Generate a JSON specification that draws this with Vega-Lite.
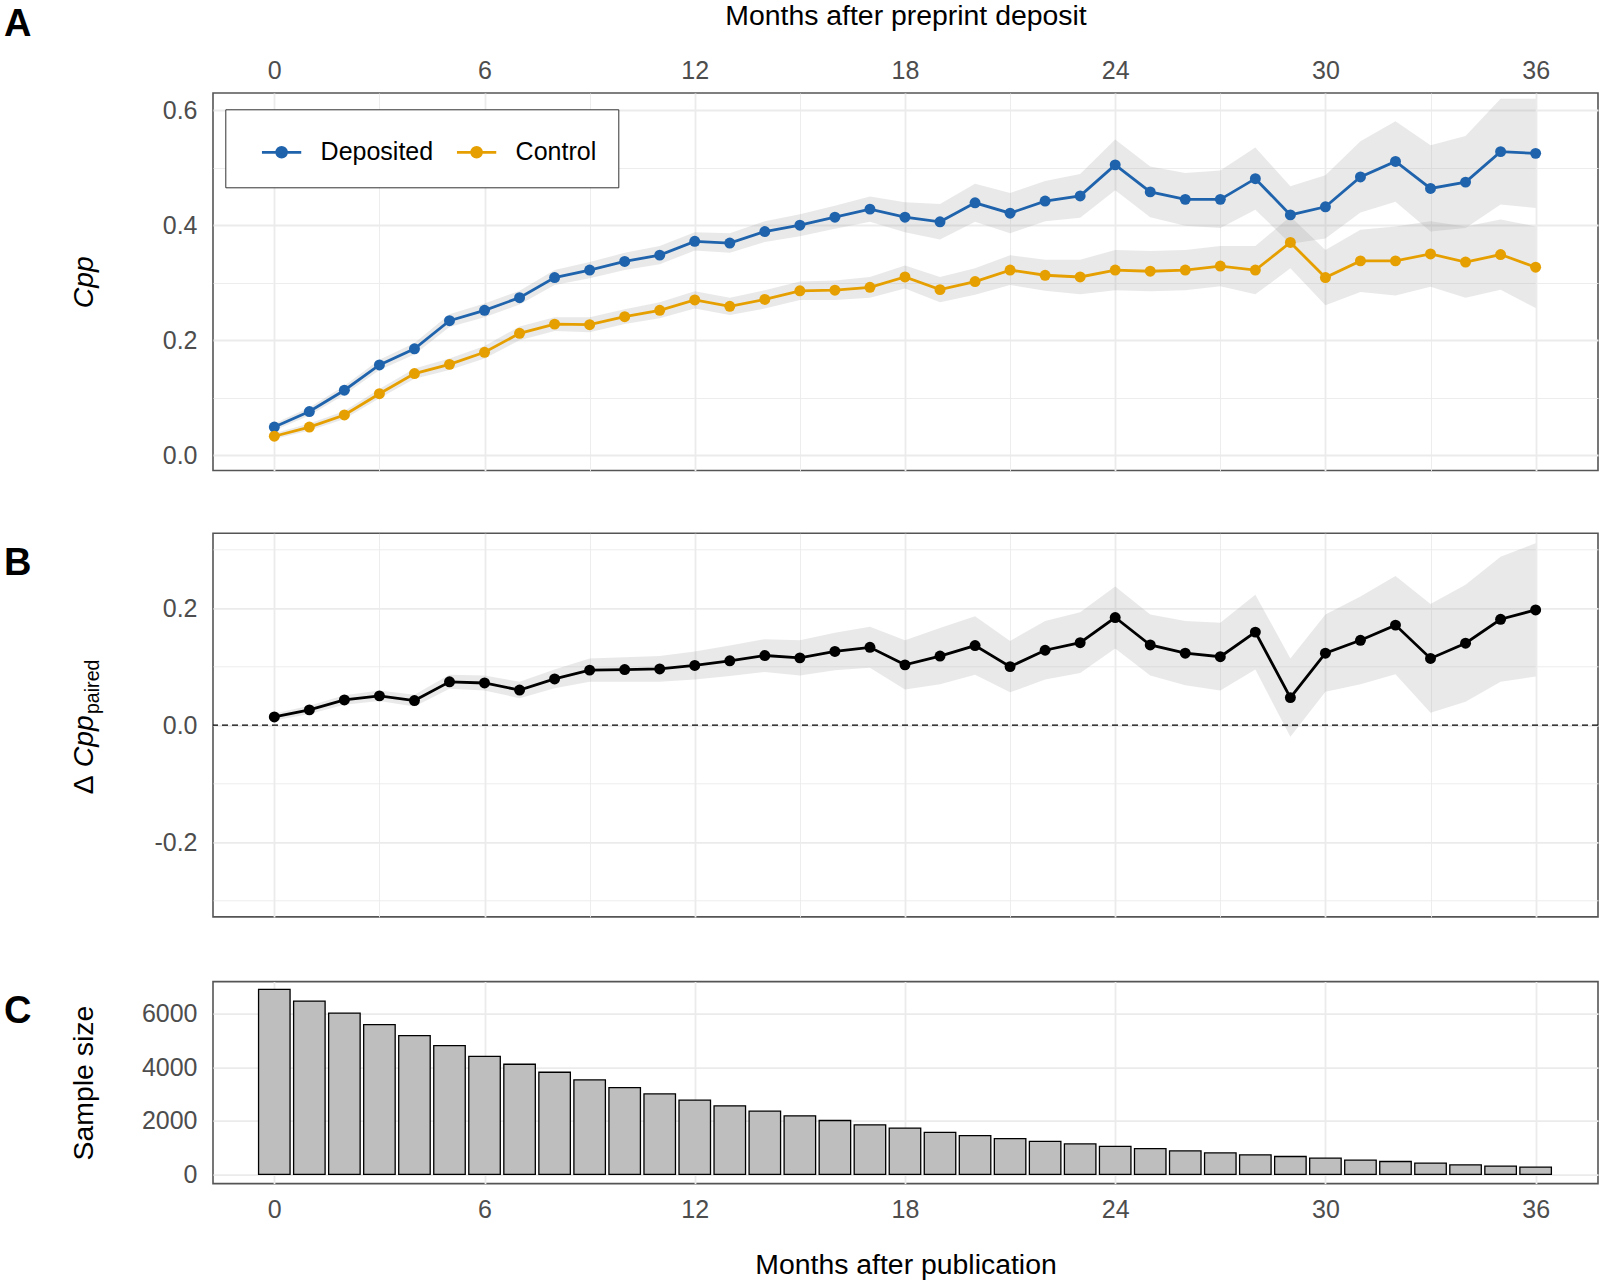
{
  "$schema": "https://vega.github.io/schema/vega-lite/v6.json",
  "padding": {"left": 3, "top": 0, "right": 2, "bottom": 0},
  "autosize": {"type": "pad"},
  "config": {
    "font": "Liberation Sans",
    "view": {"stroke": "#555555", "strokeWidth": 1.6},
    "axis": {"labelFont": "Liberation Sans", "titleFont": "Liberation Sans", "labelFontSize": 25, "titleFontSize": 28.4, "labelColor": "#4D4D4D", "titleColor": "#000000", "titleFontWeight": "normal", "ticks": false, "tickSize": 0, "domain": false, "gridColor": "#EBEBEB", "labelFlush": false, "labelOverlap": false},
    "title": {"font": "Liberation Sans", "fontSize": 38, "fontWeight": "bold", "color": "#000000", "anchor": "start", "frame": "group", "dx": -209, "baseline": "alphabetic"}
  },
  "datasets": {
    "cpp": [
      {"m":0,"g":"Deposited","v":0.049,"lo":0.043,"hi":0.055},
      {"m":1,"g":"Deposited","v":0.076,"lo":0.069,"hi":0.083},
      {"m":2,"g":"Deposited","v":0.113,"lo":0.105,"hi":0.121},
      {"m":3,"g":"Deposited","v":0.157,"lo":0.148,"hi":0.166},
      {"m":4,"g":"Deposited","v":0.185,"lo":0.175,"hi":0.195},
      {"m":5,"g":"Deposited","v":0.234,"lo":0.223,"hi":0.245},
      {"m":6,"g":"Deposited","v":0.252,"lo":0.240,"hi":0.264},
      {"m":7,"g":"Deposited","v":0.274,"lo":0.262,"hi":0.286},
      {"m":8,"g":"Deposited","v":0.309,"lo":0.296,"hi":0.322},
      {"m":9,"g":"Deposited","v":0.322,"lo":0.308,"hi":0.336},
      {"m":10,"g":"Deposited","v":0.337,"lo":0.322,"hi":0.352},
      {"m":11,"g":"Deposited","v":0.348,"lo":0.332,"hi":0.364},
      {"m":12,"g":"Deposited","v":0.372,"lo":0.356,"hi":0.388},
      {"m":13,"g":"Deposited","v":0.369,"lo":0.352,"hi":0.386},
      {"m":14,"g":"Deposited","v":0.389,"lo":0.371,"hi":0.407},
      {"m":15,"g":"Deposited","v":0.400,"lo":0.381,"hi":0.419},
      {"m":16,"g":"Deposited","v":0.414,"lo":0.394,"hi":0.434},
      {"m":17,"g":"Deposited","v":0.428,"lo":0.406,"hi":0.450},
      {"m":18,"g":"Deposited","v":0.414,"lo":0.388,"hi":0.440},
      {"m":19,"g":"Deposited","v":0.406,"lo":0.375,"hi":0.437},
      {"m":20,"g":"Deposited","v":0.439,"lo":0.406,"hi":0.472},
      {"m":21,"g":"Deposited","v":0.421,"lo":0.386,"hi":0.456},
      {"m":22,"g":"Deposited","v":0.442,"lo":0.407,"hi":0.477},
      {"m":23,"g":"Deposited","v":0.451,"lo":0.413,"hi":0.489},
      {"m":24,"g":"Deposited","v":0.505,"lo":0.461,"hi":0.549},
      {"m":25,"g":"Deposited","v":0.458,"lo":0.414,"hi":0.502},
      {"m":26,"g":"Deposited","v":0.445,"lo":0.399,"hi":0.491},
      {"m":27,"g":"Deposited","v":0.445,"lo":0.395,"hi":0.495},
      {"m":28,"g":"Deposited","v":0.481,"lo":0.427,"hi":0.535},
      {"m":29,"g":"Deposited","v":0.418,"lo":0.368,"hi":0.468},
      {"m":30,"g":"Deposited","v":0.432,"lo":0.377,"hi":0.487},
      {"m":31,"g":"Deposited","v":0.484,"lo":0.422,"hi":0.546},
      {"m":32,"g":"Deposited","v":0.511,"lo":0.441,"hi":0.581},
      {"m":33,"g":"Deposited","v":0.464,"lo":0.389,"hi":0.539},
      {"m":34,"g":"Deposited","v":0.475,"lo":0.395,"hi":0.555},
      {"m":35,"g":"Deposited","v":0.528,"lo":0.436,"hi":0.620},
      {"m":36,"g":"Deposited","v":0.525,"lo":0.430,"hi":0.620},
      {"m":0,"g":"Control","v":0.033,"lo":0.028,"hi":0.038},
      {"m":1,"g":"Control","v":0.049,"lo":0.043,"hi":0.055},
      {"m":2,"g":"Control","v":0.070,"lo":0.063,"hi":0.077},
      {"m":3,"g":"Control","v":0.107,"lo":0.099,"hi":0.115},
      {"m":4,"g":"Control","v":0.142,"lo":0.133,"hi":0.151},
      {"m":5,"g":"Control","v":0.158,"lo":0.148,"hi":0.168},
      {"m":6,"g":"Control","v":0.179,"lo":0.168,"hi":0.190},
      {"m":7,"g":"Control","v":0.212,"lo":0.200,"hi":0.224},
      {"m":8,"g":"Control","v":0.228,"lo":0.216,"hi":0.240},
      {"m":9,"g":"Control","v":0.227,"lo":0.214,"hi":0.240},
      {"m":10,"g":"Control","v":0.241,"lo":0.228,"hi":0.254},
      {"m":11,"g":"Control","v":0.252,"lo":0.238,"hi":0.266},
      {"m":12,"g":"Control","v":0.270,"lo":0.255,"hi":0.285},
      {"m":13,"g":"Control","v":0.259,"lo":0.244,"hi":0.274},
      {"m":14,"g":"Control","v":0.271,"lo":0.255,"hi":0.287},
      {"m":15,"g":"Control","v":0.286,"lo":0.270,"hi":0.302},
      {"m":16,"g":"Control","v":0.287,"lo":0.270,"hi":0.304},
      {"m":17,"g":"Control","v":0.292,"lo":0.274,"hi":0.310},
      {"m":18,"g":"Control","v":0.310,"lo":0.290,"hi":0.330},
      {"m":19,"g":"Control","v":0.288,"lo":0.266,"hi":0.310},
      {"m":20,"g":"Control","v":0.302,"lo":0.279,"hi":0.325},
      {"m":21,"g":"Control","v":0.322,"lo":0.296,"hi":0.348},
      {"m":22,"g":"Control","v":0.313,"lo":0.286,"hi":0.340},
      {"m":23,"g":"Control","v":0.310,"lo":0.280,"hi":0.340},
      {"m":24,"g":"Control","v":0.322,"lo":0.287,"hi":0.357},
      {"m":25,"g":"Control","v":0.320,"lo":0.285,"hi":0.355},
      {"m":26,"g":"Control","v":0.322,"lo":0.287,"hi":0.357},
      {"m":27,"g":"Control","v":0.329,"lo":0.294,"hi":0.364},
      {"m":28,"g":"Control","v":0.322,"lo":0.280,"hi":0.364},
      {"m":29,"g":"Control","v":0.370,"lo":0.325,"hi":0.415},
      {"m":30,"g":"Control","v":0.309,"lo":0.261,"hi":0.357},
      {"m":31,"g":"Control","v":0.338,"lo":0.284,"hi":0.392},
      {"m":32,"g":"Control","v":0.338,"lo":0.278,"hi":0.398},
      {"m":33,"g":"Control","v":0.350,"lo":0.293,"hi":0.407},
      {"m":34,"g":"Control","v":0.336,"lo":0.274,"hi":0.398},
      {"m":35,"g":"Control","v":0.349,"lo":0.288,"hi":0.410},
      {"m":36,"g":"Control","v":0.327,"lo":0.256,"hi":0.398}
    ],
    "delta": [
      {"m":0,"v":0.014,"lo":0.008,"hi":0.020},
      {"m":1,"v":0.026,"lo":0.019,"hi":0.033},
      {"m":2,"v":0.043,"lo":0.035,"hi":0.051},
      {"m":3,"v":0.050,"lo":0.041,"hi":0.059},
      {"m":4,"v":0.042,"lo":0.032,"hi":0.052},
      {"m":5,"v":0.074,"lo":0.062,"hi":0.086},
      {"m":6,"v":0.072,"lo":0.059,"hi":0.085},
      {"m":7,"v":0.060,"lo":0.046,"hi":0.074},
      {"m":8,"v":0.079,"lo":0.063,"hi":0.095},
      {"m":9,"v":0.094,"lo":0.074,"hi":0.114},
      {"m":10,"v":0.095,"lo":0.074,"hi":0.116},
      {"m":11,"v":0.096,"lo":0.074,"hi":0.118},
      {"m":12,"v":0.102,"lo":0.078,"hi":0.126},
      {"m":13,"v":0.110,"lo":0.084,"hi":0.136},
      {"m":14,"v":0.119,"lo":0.091,"hi":0.147},
      {"m":15,"v":0.115,"lo":0.085,"hi":0.145},
      {"m":16,"v":0.126,"lo":0.094,"hi":0.158},
      {"m":17,"v":0.133,"lo":0.098,"hi":0.168},
      {"m":18,"v":0.103,"lo":0.061,"hi":0.145},
      {"m":19,"v":0.118,"lo":0.070,"hi":0.166},
      {"m":20,"v":0.136,"lo":0.086,"hi":0.186},
      {"m":21,"v":0.100,"lo":0.056,"hi":0.144},
      {"m":22,"v":0.128,"lo":0.078,"hi":0.178},
      {"m":23,"v":0.141,"lo":0.089,"hi":0.193},
      {"m":24,"v":0.184,"lo":0.131,"hi":0.237},
      {"m":25,"v":0.137,"lo":0.085,"hi":0.189},
      {"m":26,"v":0.123,"lo":0.068,"hi":0.178},
      {"m":27,"v":0.117,"lo":0.059,"hi":0.175},
      {"m":28,"v":0.159,"lo":0.095,"hi":0.223},
      {"m":29,"v":0.047,"lo":-0.020,"hi":0.114},
      {"m":30,"v":0.123,"lo":0.057,"hi":0.189},
      {"m":31,"v":0.145,"lo":0.070,"hi":0.220},
      {"m":32,"v":0.171,"lo":0.087,"hi":0.255},
      {"m":33,"v":0.114,"lo":0.021,"hi":0.207},
      {"m":34,"v":0.140,"lo":0.040,"hi":0.240},
      {"m":35,"v":0.181,"lo":0.074,"hi":0.288},
      {"m":36,"v":0.197,"lo":0.083,"hi":0.311}
    ],
    "n": [
      {"m":0,"n":6907},{"m":1,"n":6472},{"m":2,"n":6025},{"m":3,"n":5590},{"m":4,"n":5180},
      {"m":5,"n":4807},{"m":6,"n":4410},{"m":7,"n":4112},{"m":8,"n":3814},{"m":9,"n":3528},
      {"m":10,"n":3242},{"m":11,"n":3006},{"m":12,"n":2770},{"m":13,"n":2559},{"m":14,"n":2360},
      {"m":15,"n":2185},{"m":16,"n":2012},{"m":17,"n":1852},{"m":18,"n":1728},{"m":19,"n":1568},
      {"m":20,"n":1444},{"m":21,"n":1333},{"m":22,"n":1235},{"m":23,"n":1136},{"m":24,"n":1049},
      {"m":25,"n":963},{"m":26,"n":877},{"m":27,"n":802},{"m":28,"n":728},{"m":29,"n":667},
      {"m":30,"n":605},{"m":31,"n":531},{"m":32,"n":481},{"m":33,"n":420},{"m":34,"n":358},
      {"m":35,"n":309},{"m":36,"n":272}
    ]
  },
  "spacing": 60.3,
  "vconcat": [
    {
      "width": 1385, "height": 377.5,
      "title": {"text": "A", "offset": -42.4},
      "data": {"name": "cpp"},
      "layer": [
        {
          "mark": {"type": "area", "color": "#999999", "opacity": 0.22},
          "encoding": {
            "x": {"field": "m", "type": "quantitative", "scale": {"domain": [-1.75, 37.78], "nice": false, "zero": false, "padding": 0},
                  "axis": {"orient": "top", "values": [0,3,6,9,12,15,18,21,24,27,30,33,36], "format": "d", "labelExpr": "datum.value % 6 === 0 ? datum.label : ''", "labelBaseline": "alphabetic", "labelPadding": 14.4, "title": "Months after preprint deposit", "titleBaseline": "alphabetic", "titleY": -68.6, "gridWidth": {"condition": {"test": "datum.value % 6 === 0", "value": 1.8}, "value": 0.9}}},
            "y": {"field": "lo", "type": "quantitative", "scale": {"domain": [-0.0266, 0.63], "nice": false, "zero": false},
                  "axis": {"values": [0,0.1,0.2,0.3,0.4,0.5,0.6], "labelExpr": "round(datum.value*10) % 2 === 0 ? format(datum.value, '.1f') : ''", "labelPadding": 16, "title": "Cpp", "titleFontStyle": "italic", "titleX": -121, "titleBaseline": "alphabetic", "gridWidth": {"condition": {"test": "round(datum.value*10) % 2 === 0", "value": 1.8}, "value": 0.9}}},
            "y2": {"field": "hi"},
            "detail": {"field": "g"}
          }
        },
        {
          "mark": {"type": "line", "strokeWidth": 2.8},
          "encoding": {
            "x": {"field": "m", "type": "quantitative"},
            "y": {"field": "v", "type": "quantitative", "title": "Cpp"},
            "color": {"field": "g", "type": "nominal", "scale": {"domain": ["Deposited", "Control"], "range": ["#1F63AC", "#E69F00"]},
                      "legend": {"title": null, "orient": "none", "legendX": 12.3, "legendY": 16.3, "direction": "horizontal", "strokeColor": "#333333", "fillColor": "#FFFFFF", "padding": 22, "symbolType": "M-1,0L1,0M-0.25,0A0.25,0.25,0,1,1,0.25,0A0.25,0.25,0,1,1,-0.25,0Z", "symbolSize": 1544, "symbolStrokeWidth": 2.7, "symbolOffset": 13.3, "labelFontSize": 25, "labelColor": "#000000", "labelFont": "Liberation Sans", "labelOffset": 18, "columnPadding": 9,
                                 "encode": {"symbols": {"update": {"fill": {"signal": "datum.value === 'Deposited' ? '#1F63AC' : '#E69F00'"}, "stroke": {"signal": "datum.value === 'Deposited' ? '#1F63AC' : '#E69F00'"}, "opacity": {"value": 1}}}}}}
          }
        },
        {
          "mark": {"type": "point", "filled": true, "size": 120, "opacity": 1},
          "encoding": {
            "x": {"field": "m", "type": "quantitative"},
            "y": {"field": "v", "type": "quantitative", "title": "Cpp"},
            "color": {"field": "g", "type": "nominal"}
          }
        }
      ]
    },
    {
      "spacing": 62.3,
      "vconcat": [
        {
          "width": 1385, "height": 383.6,
          "title": {"text": "B", "offset": -50},
          "layer": [
            {
              "data": {"name": "delta"},
              "layer": [
                {
                  "mark": {"type": "area", "color": "#999999", "opacity": 0.22},
                  "encoding": {
                    "x": {"field": "m", "type": "quantitative", "scale": {"domain": [-1.75, 37.78], "nice": false, "zero": false, "padding": 0},
                          "axis": {"values": [0,3,6,9,12,15,18,21,24,27,30,33,36], "labels": false, "title": null, "gridWidth": {"condition": {"test": "datum.value % 6 === 0", "value": 1.8}, "value": 0.9}}},
                    "y": {"field": "lo", "type": "quantitative", "scale": {"domain": [-0.328, 0.328], "nice": false, "zero": false},
                          "axis": {"values": [-0.3,-0.2,-0.1,0,0.1,0.2,0.3], "labelExpr": "round(datum.value*10) % 2 === 0 ? replace(format(datum.value, '.1f'), '\u2212', '-') : ''", "labelPadding": 16, "title": "Cpp", "titleFontStyle": "italic", "titleX": -121, "titleY": 207.5, "titleBaseline": "alphabetic", "gridWidth": {"condition": {"test": "round(datum.value*10) % 2 === 0", "value": 1.8}, "value": 0.9}}},
                    "y2": {"field": "hi"}
                  }
                },
                {
                  "mark": {"type": "line", "strokeWidth": 2.8, "color": "#000000"},
                  "encoding": {
                    "x": {"field": "m", "type": "quantitative"},
                    "y": {"field": "v", "type": "quantitative", "title": "Cpp"}
                  }
                },
                {
                  "mark": {"type": "point", "filled": true, "size": 120, "opacity": 1, "color": "#000000"},
                  "encoding": {
                    "x": {"field": "m", "type": "quantitative"},
                    "y": {"field": "v", "type": "quantitative", "title": "Cpp"}
                  }
                }
              ]
            },
            {
              "data": {"values": [{"z": 0}]},
              "mark": {"type": "rule", "strokeDash": [6, 4], "color": "#000000", "strokeWidth": 1.3},
              "encoding": {
                "y": {"field": "z", "type": "quantitative", "scale": {"domain": [-0.328, 0.328], "nice": false, "zero": false},
                      "axis": {"orient": "left", "title": "paired", "labels": false, "grid": false, "titleFontSize": 19.6, "titleFontStyle": "normal", "titleX": -115, "titleY": 153, "titleBaseline": "alphabetic", "titleAlign": "center"}}
              }
            },
            {
              "data": {"values": [{"z": 0}]},
              "mark": {"type": "rule", "opacity": 0},
              "encoding": {
                "y": {"field": "z", "type": "quantitative", "scale": {"domain": [-0.328, 0.328], "nice": false, "zero": false},
                      "axis": {"orient": "left", "title": "\u0394", "labels": false, "grid": false, "titleFontStyle": "normal", "titleX": -121, "titleY": 251, "titleBaseline": "alphabetic", "titleAlign": "center"}}
              }
            }
          ],
          "resolve": {"scale": {"y": "independent"}, "axis": {"y": "independent"}}
        },
        {
          "width": 1385, "height": 202,
          "title": {"text": "C", "offset": -49},
          "data": {"name": "n"},
          "mark": {"type": "bar", "size": 31.5, "fill": "#BEBEBE", "stroke": "#000000", "strokeWidth": 1.3},
          "encoding": {
            "x": {"field": "m", "type": "quantitative", "scale": {"domain": [-1.75, 37.78], "nice": false, "zero": false, "padding": 0},
                  "axis": {"values": [0,6,12,18,24,30,36], "format": "d", "labelBaseline": "alphabetic", "labelPadding": 34.3, "title": "Months after publication", "titleBaseline": "alphabetic", "titleY": 89.5, "gridWidth": 1.8}},
            "y": {"field": "n", "type": "quantitative", "scale": {"domain": [-345, 7200], "nice": false, "zero": false},
                  "axis": {"values": [0,2000,4000,6000], "format": "d", "labelPadding": 16, "title": "Sample size", "titleX": -121, "titleBaseline": "alphabetic", "gridWidth": 1.8}}
          }
        }
      ]
    }
  ]
}
